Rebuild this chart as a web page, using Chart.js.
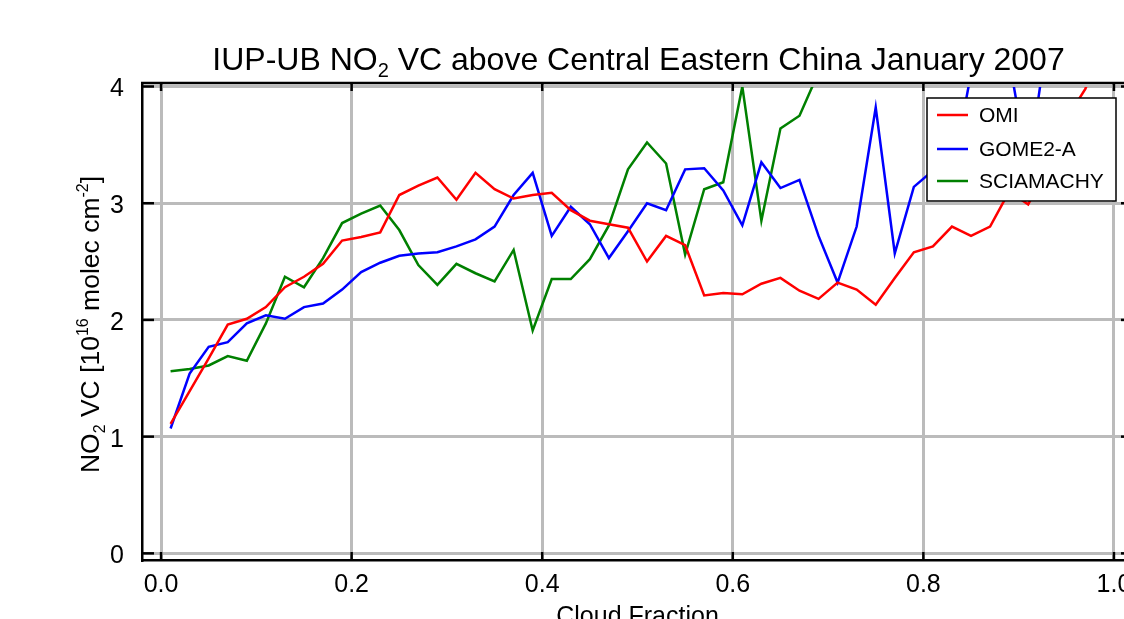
<!DOCTYPE html>
<html>
<head>
<meta charset="utf-8">
<title>IUP-UB NO2 VC above Central Eastern China January 2007</title>
<script src="https://cdn.jsdelivr.net/npm/chart.js@4.4.1/dist/chart.umd.min.js"></script>
<style>
    html, body { margin: 0; padding: 0; overflow: hidden; background: #fff; width: 1124px; height: 619px; }
    #wrap { position: absolute; left: 0; top: 0; width: 1150px; height: 619px; }
</style>
</head>
<body>
<div id="wrap"><canvas id="no2-chart"></canvas></div>
<script>
const FONT = "'Liberation Sans', Arial, Helvetica, sans-serif";

// cloud fraction bin centres
const cloudFraction = [
    0.01, 0.03, 0.05, 0.07, 0.09, 0.11, 0.13, 0.15, 0.17, 0.19,
    0.21, 0.23, 0.25, 0.27, 0.29, 0.31, 0.33, 0.35, 0.37, 0.39,
    0.41, 0.43, 0.45, 0.47, 0.49, 0.51, 0.53, 0.55, 0.57, 0.59,
    0.61, 0.63, 0.65, 0.67, 0.69, 0.71, 0.73, 0.75, 0.77, 0.79,
    0.81, 0.83, 0.85, 0.87, 0.89, 0.91, 0.93, 0.95, 0.97, 0.99
];

// NO2 VC in 10^16 molec cm-2
const omiVC = [
    1.11, 1.39, 1.67, 1.96, 2.01, 2.11, 2.28, 2.37, 2.48, 2.68,
    2.71, 2.75, 3.07, 3.15, 3.22, 3.03, 3.26, 3.12, 3.04, 3.07,
    3.09, 2.94, 2.85, 2.82, 2.79, 2.50, 2.72, 2.64, 2.21, 2.23,
    2.22, 2.31, 2.36, 2.25, 2.18, 2.32, 2.26, 2.13, 2.36, 2.58,
    2.63, 2.80, 2.72, 2.80, 3.10, 2.99, 3.30, 3.72, 3.98, 4.40
];
const gome2aVC = [
    1.07, 1.54, 1.77, 1.81, 1.97, 2.04, 2.01, 2.11, 2.14, 2.26,
    2.41, 2.49, 2.55, 2.57, 2.58, 2.63, 2.69, 2.80, 3.07, 3.26,
    2.72, 2.97, 2.82, 2.53, 2.76, 3.00, 2.94, 3.29, 3.30, 3.11,
    2.81, 3.35, 3.13, 3.20, 2.72, 2.32, 2.80, 3.82, 2.57, 3.14,
    3.28, 3.25, 4.11, 4.30, 4.23, 3.30, 4.42, 4.50, 4.40, 4.60
];
const sciamachyVC = [
    1.56, 1.58, 1.61, 1.69, 1.65, 1.97, 2.37, 2.28, 2.53, 2.83,
    2.91, 2.98, 2.77, 2.47, 2.30, 2.48, 2.40, 2.33, 2.60, 1.91,
    2.35, 2.35, 2.52, 2.81, 3.29, 3.52, 3.34, 2.56, 3.12, 3.18,
    4.00, 2.85, 3.64, 3.75, 4.12, null, null, null, null, null,
    null, null, null, null, null, null, null, null, null, null
];

const xTicks = [0.0, 0.2, 0.4, 0.6, 0.8, 1.0];
const yTicks = [0, 1, 2, 3, 4];

const titleParts = [{ text: 'IUP-UB NO' }, { text: '2', shift: 'sub' }, { text: ' VC above Central Eastern China January 2007' }];
const yTitleParts = [
    { text: 'NO' }, { text: '2', shift: 'sub' }, { text: ' VC [10' }, { text: '16', shift: 'sup' },
    { text: ' molec cm' }, { text: '-2', shift: 'sup' }, { text: ']' }
];
const xTitle = 'Cloud Fraction';

function toPoints(values) {
    return cloudFraction.map((x, i) => ({ x: x, y: values[i] }));
}

function drawRich(ctx, parts, size, cx, baseY, angle) {
    ctx.save();
    ctx.translate(cx, baseY);
    ctx.rotate(angle || 0);
    const fontFor = p => (p.shift ? Math.round(size * 0.62) : size) + 'px ' + FONT;
    let total = 0;
    parts.forEach(p => { ctx.font = fontFor(p); total += ctx.measureText(p.text).width; });
    let x = -total / 2;
    ctx.fillStyle = '#000';
    ctx.textAlign = 'left';
    ctx.textBaseline = 'alphabetic';
    parts.forEach(p => {
        ctx.font = fontFor(p);
        const dy = p.shift === 'sub' ? size * 0.22 : (p.shift === 'sup' ? -size * 0.42 : 0);
        ctx.fillText(p.text, x, dy);
        x += ctx.measureText(p.text).width;
    });
    ctx.restore();
}

function strokeLine(ctx, x1, y1, x2, y2) {
    ctx.beginPath();
    ctx.moveTo(x1, y1);
    ctx.lineTo(x2, y2);
    ctx.stroke();
}

// top/right axes and inward tick marks
const framePlugin = {
    id: 'frame',
    beforeDatasetsDraw(chart) {
        const ctx = chart.ctx;
        const { left, right, top, bottom } = chart.chartArea;
        const xs = chart.scales.x, ys = chart.scales.y;
        ctx.save();
        ctx.strokeStyle = '#000';
        ctx.lineWidth = 2.5;
        strokeLine(ctx, left - 1, top, right, top);
        strokeLine(ctx, right, top, right, bottom);
        xTicks.forEach(v => {
            const px = xs.getPixelForValue(v);
            strokeLine(ctx, px, bottom, px, bottom - 8);
            strokeLine(ctx, px, top, px, top + 8);
        });
        yTicks.forEach(v => {
            const py = ys.getPixelForValue(v);
            strokeLine(ctx, left, py, left + 12, py);
            strokeLine(ctx, right, py, right - 12, py);
        });
        ctx.restore();
    },
    afterDraw(chart) {
        const ctx = chart.ctx;
        const area = chart.chartArea;
        const mid = (area.left + area.right) / 2;
        drawRich(ctx, titleParts, 32, mid + 1, 70, 0);
        drawRich(ctx, yTitleParts, 26.5, 99, (area.top + area.bottom) / 2 + 3, -Math.PI / 2);
        ctx.save();
        ctx.font = '25px ' + FONT;
        ctx.fillStyle = '#000';
        ctx.textAlign = 'center';
        ctx.textBaseline = 'alphabetic';
        ctx.fillText(xTitle, mid, 624);
        ctx.restore();
    }
};

// boxed legend in the upper right corner
const boxLegendPlugin = {
    id: 'boxLegend',
    afterDatasetsDraw(chart) {
        const ctx = chart.ctx;
        const box = { x: 927, y: 98, w: 189, h: 103 };
        const rows = [115, 149, 181];
        ctx.save();
        ctx.fillStyle = '#fff';
        ctx.fillRect(box.x, box.y, box.w, box.h);
        ctx.strokeStyle = '#000';
        ctx.lineWidth = 1.5;
        ctx.strokeRect(box.x, box.y, box.w, box.h);
        ctx.font = '21px ' + FONT;
        ctx.textAlign = 'left';
        ctx.textBaseline = 'middle';
        chart.data.datasets.forEach((ds, i) => {
            ctx.strokeStyle = ds.borderColor;
            ctx.lineWidth = 2.5;
            strokeLine(ctx, 937, rows[i], 968, rows[i]);
            ctx.fillStyle = '#000';
            ctx.fillText(ds.label, 979, rows[i] + 1);
        });
        ctx.restore();
    }
};

const lineStyle = { borderWidth: 2.5, pointRadius: 0, tension: 0, fill: false, clip: { left: 0, top: -4, right: 0, bottom: 0 } };

new Chart(document.getElementById('no2-chart'), {
    type: 'line',
    data: {
        datasets: [
            Object.assign({ label: 'OMI', data: toPoints(omiVC), borderColor: '#ff0000' }, lineStyle),
            Object.assign({ label: 'GOME2-A', data: toPoints(gome2aVC), borderColor: '#0000ff' }, lineStyle),
            Object.assign({ label: 'SCIAMACHY', data: toPoints(sciamachyVC), borderColor: '#008000' }, lineStyle)
        ]
    },
    options: {
        responsive: true,
        maintainAspectRatio: false,
        animation: false,
        layout: { padding: { left: 0, top: 83, right: 17, bottom: 0 } },
        plugins: {
            legend: { display: false },
            title: { display: false },
            tooltip: { enabled: false }
        },
        scales: {
            x: {
                type: 'linear',
                min: -0.02,
                max: 1.02,
                afterBuildTicks: s => { s.ticks = xTicks.map(v => ({ value: v })); },
                afterFit: s => { s.height = 59; },
                grid: { color: '#bbbbbb', lineWidth: 3, drawTicks: false },
                border: { display: true, color: '#000', width: 2.5 },
                ticks: {
                    autoSkip: false, maxRotation: 0, padding: 10, color: '#000',
                    font: { family: FONT, size: 25 },
                    callback: v => v.toFixed(1)
                }
            },
            y: {
                min: -0.057,
                max: 4.03,
                afterBuildTicks: s => { s.ticks = yTicks.map(v => ({ value: v })); },
                afterFit: s => { s.width = 142; },
                grid: { color: '#bbbbbb', lineWidth: 3, drawTicks: false },
                border: { display: true, color: '#000', width: 2.5 },
                ticks: {
                    autoSkip: false, padding: 18, labelOffset: 3, color: '#000',
                    font: { family: FONT, size: 25 },
                    callback: v => String(v)
                }
            }
        }
    },
    plugins: [framePlugin, boxLegendPlugin]
});
</script>
</body>
</html>
